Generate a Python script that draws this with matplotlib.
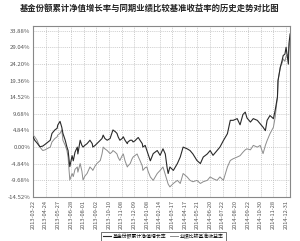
import matplotlib
matplotlib.use("Agg")
import matplotlib.pyplot as plt
from matplotlib.ticker import FixedLocator

plt.rcParams['font.family'] = ['Noto Sans CJK SC', 'DejaVu Sans']

title = "基金份额累计净值增长率与同期业绩比较基准收益率的历史走势对比图"
series_names = ["基金份额累计净值增长率", "业绩比较基准收益率"]

tick_labels = ["2013-03-22", "2013-04-24", "2013-05-27", "2013-06-28", "2013-08-01",
               "2013-09-02", "2013-10-10", "2013-11-08", "2013-12-09", "2014-01-08",
               "2014-02-14", "2014-03-17", "2014-04-17", "2014-05-21", "2014-06-20",
               "2014-07-22", "2014-08-20", "2014-09-22", "2014-10-30", "2014-11-28",
               "2014-12-31"]
tick_days = [0, 22, 44, 66, 88, 110, 132, 154, 176, 198, 220, 242, 264, 286, 308,
             330, 352, 374, 396, 418, 440]
y_ticks = [-14.52, -9.68, -4.84, 0.00, 4.84, 9.68, 14.52, 19.36, 24.20, 29.04, 33.88]

days = [0, 3, 7, 12, 17, 21, 24, 30, 33, 38, 42, 43, 47, 50, 52, 56, 59, 61, 64, 68,
        70, 73, 77, 78, 82, 85, 87, 90, 94, 99, 103, 104, 108, 111, 117, 120, 122, 125,
        129, 134, 137, 139, 143, 146, 148, 151, 155, 157, 160, 164, 165, 169, 172, 174,
        177, 181, 183, 186, 190, 191, 195, 198, 200, 204, 209, 216, 221, 226, 230, 233,
        235, 238, 244, 251, 256, 261, 268, 273, 278, 285, 291, 296, 303, 308, 313, 320,
        325, 331, 338, 343, 348, 355, 360, 365, 369, 372, 378, 383, 390, 395, 400, 404,
        407, 412, 418, 421, 425, 426, 430, 433, 435, 438, 440, 444, 445, 447]

fund = [3.0, 2.0, 1.2, 0.1, 0.3, 0.8, 1.2, 2.0, 4.0, 5.0, 5.5, 6.4, 7.5, 5.8, 4.0, 2.0,
        0.0, -1.0, -5.7, -2.5, -4.0, -1.5, 0.0, -2.0, 2.0, 0.5, 0.0, 0.5, 1.0, 2.0, 1.0,
        0.0, 0.5, 1.0, 2.0, 2.5, 3.5, 2.5, 2.0, 2.5, 4.0, 5.0, 4.5, 4.0, 3.0, 2.0, 2.5,
        3.0, 2.0, 1.0, 1.5, 2.0, 2.0, 1.5, 1.8, 2.5, 2.8, 2.0, 1.0, 0.0, 0.5, -1.0, -2.0,
        -4.0, -1.9, -1.0, -2.4, -0.5, -2.0, -5.8, -7.7, -5.8, -6.8, -4.8, -2.9, 0.0, -0.5,
        -1.0, -2.0, -3.9, -4.8, -2.9, -2.0, -1.0, -2.4, -1.0, 0.0, 1.9, 3.9, 7.8, 7.8, 8.3,
        6.5, 9.5, 10.2, 8.5, 7.3, 8.3, 7.8, 6.8, 5.8, 4.8, 7.8, 9.2, 8.3, 10.7, 14.6, 19.4,
        23.3, 25.2, 26.7, 27.1, 29.1, 24.2, 30.1, 33.0]

bench = [3.5, 3.0, 2.0, 0.0, -1.0, -0.8, -0.5, 0.0, 1.5, 2.5, 3.0, 3.5, 4.0, 5.0, 2.0,
         0.5, -1.0, -3.0, -9.6, -7.7, -8.6, -6.5, -5.8, -7.3, -4.8, -7.0, -9.6, -8.5,
         -7.7, -5.8, -6.5, -6.8, -5.5, -4.8, -3.9, -2.0, 0.0, -0.5, -1.0, -1.9, -1.5,
         -1.0, -1.5, -2.0, -3.0, -3.9, -2.5, -2.0, -4.0, -5.8, -5.5, -4.8, -3.5, -2.9,
         -2.5, -2.0, -2.8, -3.9, -5.5, -6.8, -6.0, -5.8, -7.0, -8.7, -9.7, -7.7, -6.8,
         -5.8, -8.0, -9.7, -10.8, -11.6, -10.6, -9.7, -10.6, -7.7, -8.7, -9.7, -10.1,
         -9.7, -10.6, -10.1, -9.7, -8.7, -9.2, -9.7, -8.7, -9.7, -5.8, -3.9, -3.4, -2.9,
         -2.5, -1.5, -0.8, -0.5, -0.8, 0.5, 0.0, 0.5, -1.9, 0.5, 1.9, 3.9, 5.8, 8.7, 14.6,
         19.4, 23.3, 24.5, 25.7, 25.0, 26.5, 27.1, 29.0, 31.0]

fig = plt.figure(figsize=(3.0, 2.41), dpi=100)
ax = fig.add_axes([0.11, 0.183, 0.857, 0.709])

ax.plot(days, bench, color="#8c8c8c", lw=0.7, label=series_names[1], zorder=3)
ax.plot(days, fund, color="#2a2a2a", lw=0.8, label=series_names[0], zorder=4)

ax.set_xlim(0, 447)
ax.set_ylim(-14.52, 35.3)
ax.xaxis.set_major_locator(FixedLocator(tick_days))
ax.set_xticklabels(tick_labels, rotation=90, fontsize=4.1, color="#555555")
ax.yaxis.set_major_locator(FixedLocator(y_ticks))
ax.set_yticklabels(["%.2f%%" % v for v in y_ticks], fontsize=4.3, color="#555555")
ax.tick_params(axis='both', length=0, pad=2)
ax.grid(True, color="#bbbbbb", linestyle=(0, (1.5, 1.5)), lw=0.5)
for s in ax.spines.values():
    s.set_color("#888888")
    s.set_linewidth(0.8)

fig.text(0.5, 0.965, title, ha="center", va="center", fontsize=6.0,
         fontweight="bold", color="#222222")

handles, labels = ax.get_legend_handles_labels()
leg = fig.legend(handles[::-1], labels[::-1], loc="center", bbox_to_anchor=(0.545, 0.02),
                 ncol=2, fontsize=3.5, frameon=True, fancybox=False, handlelength=1.6,
                 handletextpad=0.4, columnspacing=0.8, borderpad=0.35, edgecolor="#333333")
leg.get_frame().set_linewidth(0.6)

fig.savefig("out.png", dpi=100)
